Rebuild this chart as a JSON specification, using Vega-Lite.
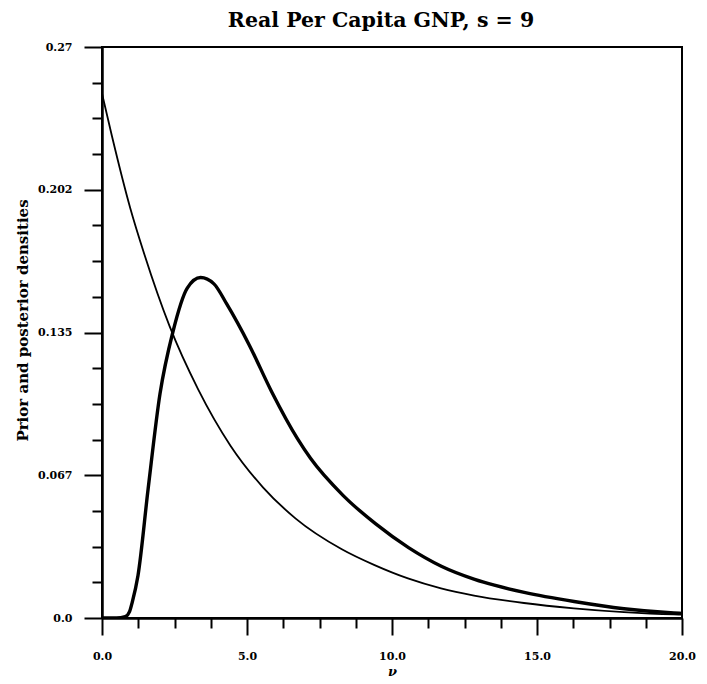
{
  "$schema": "https://vega.github.io/schema/vega-lite/v6.json",
  "width": 580,
  "height": 571,
  "autosize": {"type": "none"},
  "padding": {"left": 102, "top": 47, "right": 25, "bottom": 66},
  "background": "white",
  "config": {
    "view": {"stroke": "black", "strokeWidth": 2},
    "font": "DejaVu Serif",
    "axis": {
      "grid": false,
      "domainColor": "black",
      "domainWidth": 2.5,
      "tickColor": "black",
      "tickWidth": 2,
      "labelFont": "DejaVu Serif",
      "labelFontSize": 11,
      "labelFontWeight": "bold",
      "labelColor": "black",
      "labelFlush": false,
      "labelOverlap": false,
      "titleColor": "black",
      "titleFont": "DejaVu Serif",
      "titleFontWeight": "bold"
    }
  },
  "title": {
    "text": "Real Per Capita GNP, s = 9",
    "font": "DejaVu Serif",
    "fontSize": 20.5,
    "fontWeight": "bold",
    "color": "black",
    "offset": 10,
    "dx": -11
  },
  "data": {
    "values": [
      {"curve": "prior", "nu": 0, "density": 0.248},
      {"curve": "prior", "nu": 0.34, "density": 0.228},
      {"curve": "prior", "nu": 0.97, "density": 0.194},
      {"curve": "prior", "nu": 1.46, "density": 0.172},
      {"curve": "prior", "nu": 2.33, "density": 0.138},
      {"curve": "prior", "nu": 3.32, "density": 0.108},
      {"curve": "prior", "nu": 4.43, "density": 0.0815},
      {"curve": "prior", "nu": 5.55, "density": 0.0618},
      {"curve": "prior", "nu": 6.68, "density": 0.047},
      {"curve": "prior", "nu": 8.27, "density": 0.0325},
      {"curve": "prior", "nu": 9.4, "density": 0.025},
      {"curve": "prior", "nu": 10.55, "density": 0.0187},
      {"curve": "prior", "nu": 11.69, "density": 0.0140},
      {"curve": "prior", "nu": 12.83, "density": 0.0106},
      {"curve": "prior", "nu": 14.55, "density": 0.0071},
      {"curve": "prior", "nu": 16.27, "density": 0.0046},
      {"curve": "prior", "nu": 18.0, "density": 0.0028},
      {"curve": "prior", "nu": 19.72, "density": 0.0017},
      {"curve": "prior", "nu": 20, "density": 0.0016},
      {"curve": "posterior", "nu": 0, "density": 0},
      {"curve": "posterior", "nu": 0.5, "density": 0},
      {"curve": "posterior", "nu": 0.8, "density": 0.0006},
      {"curve": "posterior", "nu": 0.95, "density": 0.003},
      {"curve": "posterior", "nu": 1.04, "density": 0.0073},
      {"curve": "posterior", "nu": 1.24, "density": 0.02},
      {"curve": "posterior", "nu": 1.59, "density": 0.061},
      {"curve": "posterior", "nu": 2.0, "density": 0.106},
      {"curve": "posterior", "nu": 2.44, "density": 0.135},
      {"curve": "posterior", "nu": 2.94, "density": 0.156},
      {"curve": "posterior", "nu": 3.4, "density": 0.161},
      {"curve": "posterior", "nu": 3.86, "density": 0.158},
      {"curve": "posterior", "nu": 4.3, "density": 0.1485},
      {"curve": "posterior", "nu": 5.08, "density": 0.129},
      {"curve": "posterior", "nu": 5.85, "density": 0.107},
      {"curve": "posterior", "nu": 6.74, "density": 0.0848},
      {"curve": "posterior", "nu": 7.19, "density": 0.0755},
      {"curve": "posterior", "nu": 8.31, "density": 0.058},
      {"curve": "posterior", "nu": 9.44, "density": 0.0445},
      {"curve": "posterior", "nu": 10.57, "density": 0.0333},
      {"curve": "posterior", "nu": 11.7, "density": 0.0245},
      {"curve": "posterior", "nu": 12.85, "density": 0.0183},
      {"curve": "posterior", "nu": 13.53, "density": 0.0155},
      {"curve": "posterior", "nu": 14.56, "density": 0.0121},
      {"curve": "posterior", "nu": 16.28, "density": 0.0078},
      {"curve": "posterior", "nu": 18.0, "density": 0.0044},
      {"curve": "posterior", "nu": 19.72, "density": 0.0024},
      {"curve": "posterior", "nu": 20, "density": 0.0022}
    ]
  },
  "layer": [
    {
      "transform": [{"filter": "datum.curve === 'prior'"}],
      "mark": {"type": "line", "color": "black", "strokeWidth": 1.8, "interpolate": "monotone", "clip": true},
      "encoding": {
        "x": {
          "field": "nu",
          "type": "quantitative",
          "scale": {"domain": [0, 20], "nice": false, "zero": false},
          "axis": {
            "orient": "bottom",
            "title": "ν",
            "titleFontSize": 13,
            "titleFontStyle": "italic",
            "titlePadding": 4,
            "values": [0, 5, 10, 15, 20],
            "format": ".1f",
            "labelPadding": 15,
            "tickSize": 17
          }
        },
        "y": {
          "field": "density",
          "type": "quantitative",
          "scale": {"domain": [0, 0.27], "nice": false, "zero": true},
          "axis": {
            "orient": "left",
            "title": "Prior and posterior densities",
            "titleFontSize": 15,
            "titleX": -80,
            "titleY": 273,
            "titleBaseline": "middle",
            "values": [0, 0.0675, 0.135, 0.2025, 0.27],
            "labelExpr": "datum.value === 0 ? '0.0' : datum.value < 0.1 ? '0.067' : datum.value < 0.2 ? '0.135' : datum.value < 0.25 ? '0.202' : '0.27'",
            "labelPadding": 12,
            "tickSize": 18
          }
        }
      }
    },
    {
      "transform": [{"filter": "datum.curve === 'posterior'"}],
      "mark": {"type": "line", "color": "black", "strokeWidth": 3.4, "interpolate": "monotone", "clip": true},
      "encoding": {
        "x": {
          "field": "nu",
          "type": "quantitative",
          "scale": {"domain": [0, 20], "nice": false, "zero": false},
          "axis": {
            "orient": "bottom",
            "title": null,
            "labels": false,
            "domain": false,
            "values": [1.25, 2.5, 3.75, 6.25, 7.5, 8.75, 11.25, 12.5, 13.75, 16.25, 17.5, 18.75],
            "tickSize": 10
          }
        },
        "y": {
          "field": "density",
          "type": "quantitative",
          "scale": {"domain": [0, 0.27], "nice": false, "zero": true},
          "axis": {
            "orient": "left",
            "title": null,
            "labels": false,
            "domain": false,
            "values": [0.016875, 0.03375, 0.050625, 0.084375, 0.10125, 0.118125, 0.151875, 0.16875, 0.185625, 0.219375, 0.23625, 0.253125],
            "tickSize": 10
          }
        }
      }
    }
  ],
  "resolve": {"axis": {"x": "independent", "y": "independent"}}
}
